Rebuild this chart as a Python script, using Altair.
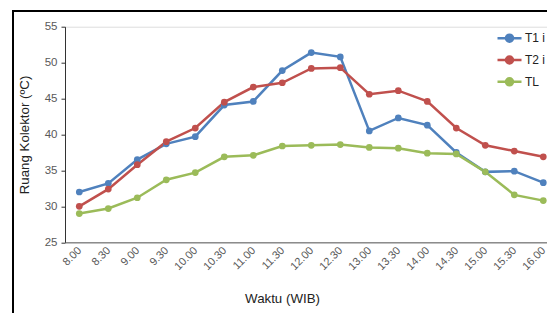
import altair as alt
import pandas as pd

times = ["8.00", "8.30", "9.00", "9.30", "10.00", "10.30", "11.00", "11.30",
         "12.00", "12.30", "13.00", "13.30", "14.00", "14.30", "15.00", "15.30", "16.00"]
t1 = [32.0, 33.2, 36.5, 38.7, 39.7, 44.1, 44.6, 48.9, 51.4, 50.8, 40.5, 42.3, 41.3, 37.5, 34.8, 34.9, 33.3]
t2 = [30.0, 32.4, 35.8, 39.0, 40.9, 44.5, 46.6, 47.2, 49.2, 49.3, 45.6, 46.1, 44.6, 40.9, 38.5, 37.7, 36.9]
tl = [29.0, 29.7, 31.2, 33.7, 34.7, 36.9, 37.1, 38.4, 38.5, 38.6, 38.2, 38.1, 37.4, 37.3, 34.8, 31.6, 30.8]
series = ["T1 i", "T2 i", "TL"]
colors = ["#4F81BD", "#C0504D", "#9BBB59"]

rows = []
for s, vals in zip(series, [t1, t2, tl]):
    for t, v in zip(times, vals):
        rows.append({"Waktu": t, "Suhu": v, "Seri": s})
df = pd.DataFrame(rows)

FONT = "Liberation Sans"

x = alt.X("Waktu:O", sort=times,
          scale=alt.Scale(type="point", padding=0.31, align=0.794),
          axis=alt.Axis(title="Waktu (WIB)", labelAngle=-45, ticks=False,
                        domainColor="#8c8c8c", domainWidth=1.5,
                        labelFont=FONT, labelFontSize=11, labelColor="#595959",
                        labelPadding=2, labelOffset=-4,
                        titleFont=FONT, titleFontSize=13.3, titleFontWeight="normal",
                        titleColor="#222222", titleX=217, titleY=49.5,
                        titleAnchor="middle"))
y = alt.Y("Suhu:Q",
          scale=alt.Scale(domain=[25, 55], nice=False, zero=False),
          axis=alt.Axis(title="Ruang Kolektor (ºC)", values=[25, 30, 35, 40, 45, 50, 55],
                        grid=False, domainColor="#333333", tickColor="#333333",
                        tickSize=4, labelPadding=4,
                        labelFont=FONT, labelFontSize=11.5, labelColor="#595959",
                        titleFont=FONT, titleFontSize=13.3, titleFontWeight="normal",
                        titleColor="#222222", titlePadding=13))
color = alt.Color("Seri:N", sort=series,
                  scale=alt.Scale(domain=series, range=colors),
                  legend=alt.Legend(title=None, orient="none", legendX=433, legendY=0,
                                    symbolType="M-1.2,0H1.2M-0.35,0A0.35,0.35,0,1,1,0.35,0A0.35,0.35,0,1,1,-0.35,0Z",
                                    symbolSize=400, symbolStrokeWidth=2.5,
                                    rowPadding=1.8, labelOffset=4, padding=0,
                                    labelFont=FONT, labelFontSize=12, labelColor="#222222"))

base = alt.Chart(df)

lines = base.mark_line(strokeWidth=2.5).encode(x=x, y=y, color=color, detail="Seri:N")
pts = base.mark_point(filled=True, size=45, opacity=1).encode(x=x, y=y, color=color)

frame = alt.Chart(df).mark_rect(fill=None, stroke="#000000", strokeWidth=2).encode(
    x=alt.value(-52), x2=alt.value(700), y=alt.value(-15.7), y2=alt.value(400)
)

chart = alt.layer(frame, lines, pts).properties(
    width=482, height=215.6,
    autosize=alt.AutoSizeParams(type="none"),
    padding={"left": 57, "top": 18.7, "right": 0, "bottom": 70.7},
).configure_view(stroke=None).configure(background="white")

chart.save("out.html", embed_options={"renderer": "svg", "actions": False})
